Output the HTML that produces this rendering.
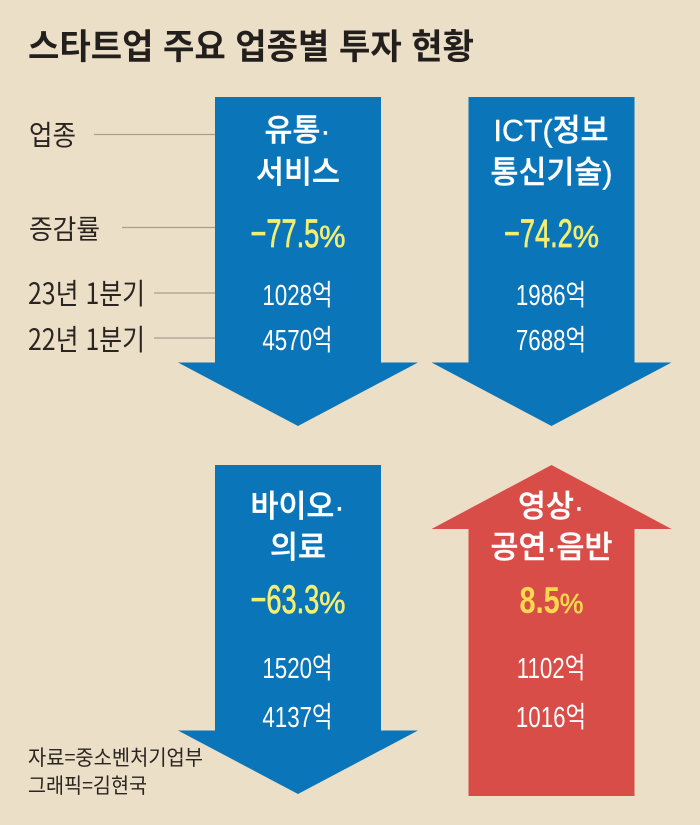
<!DOCTYPE html>
<html lang="ko">
<head>
<meta charset="utf-8">
<title>스타트업 주요 업종별 투자 현황</title>
<style>
html,body{margin:0;padding:0;background:#ecdfc8;}
svg{display:block;}
text{font-family:"Liberation Sans","Noto Sans CJK KR",sans-serif;}
.kr{font-family:"Noto Sans CJK KR","Liberation Sans",sans-serif;}
</style>
</head>
<body>
<svg id="chart" xmlns="http://www.w3.org/2000/svg" width="700" height="825" viewBox="0 0 700 825">
  <rect width="700" height="825" fill="#ecdfc8"/>
  <text class="kr" x="28" y="59" font-size="35" font-weight="700" fill="#231f1c" textLength="446" lengthAdjust="spacingAndGlyphs">스타트업 주요 업종별 투자 현황</text>

  <text class="kr" x="29" y="145" font-size="28" fill="#2a2521" textLength="47" lengthAdjust="spacingAndGlyphs">업종</text>
  <line x1="94" y1="134.5" x2="215" y2="134.5" stroke="#a89f90" stroke-width="1.2"/>
  <text class="kr" x="29" y="239" font-size="27" fill="#2a2521" textLength="71" lengthAdjust="spacingAndGlyphs">증감률</text>
  <line x1="122" y1="227.5" x2="215" y2="227.5" stroke="#a89f90" stroke-width="1.2"/>
  <text class="kr" x="28" y="304" font-size="29" fill="#2a2521" textLength="117" lengthAdjust="spacingAndGlyphs">23년 1분기</text>
  <line x1="154" y1="293" x2="215" y2="293" stroke="#a89f90" stroke-width="1.2"/>
  <text class="kr" x="28" y="350" font-size="29" fill="#2a2521" textLength="117" lengthAdjust="spacingAndGlyphs">22년 1분기</text>
  <line x1="154" y1="338" x2="215" y2="338" stroke="#a89f90" stroke-width="1.2"/>

  <g id="arrows"></g>

  <text class="kr" x="28" y="765" font-size="21" fill="#2a2521" textLength="175" lengthAdjust="spacingAndGlyphs">자료=중소벤처기업부</text>
  <text class="kr" x="28" y="793" font-size="21" fill="#2a2521" textLength="119" lengthAdjust="spacingAndGlyphs">그래픽=김현국</text>
</svg>
<script>
const categoryFirstLines = ['유통·', 'ICT(정보', '바이오·', '영상·'];
const categorySecondLines = ['서비스', '통신기술)', '의료', '공연·음반'];
const changeRates = [-77.5, -74.2, -63.3, 8.5];
const investment2023 = [1028, 1986, 1520, 1102];
const investment2022 = [4570, 7688, 4137, 1016];

const SVG_NS = 'http://www.w3.org/2000/svg';
const host = document.getElementById('arrows');
const columnCenter = function (i) { return 298 + (i % 2) * 253.5; };
const rowTop = function (i) { return i < 2 ? 97 : 465; };
const textOffsets = [
  { first: 44, second: 86, rate: 150, v1: 208, v2: 253 },
  { first: 52, second: 93, rate: 148, v1: 213, v2: 262 }
];

function arrowPoints(cx, top, rate) {
  const shaft = 83, head = 120, length = 329, neck = 265.5;
  if (rate < 0) {
    return [[cx - shaft, top], [cx + shaft, top], [cx + shaft, top + neck], [cx + head, top + neck],
      [cx, top + length], [cx - head, top + neck], [cx - shaft, top + neck]];
  }
  const inv = 64;
  return [[cx, top], [cx + head, top + inv], [cx + shaft, top + inv], [cx + shaft, top + 331],
    [cx - shaft, top + 331], [cx - shaft, top + inv], [cx - head, top + inv]];
}

function addText(label, content, x, y, size, weight, fill, squeeze, stroke) {
  const t = document.createElementNS(SVG_NS, 'text');
  
  
  t.setAttribute('x', x);
  t.setAttribute('y', y);
  t.setAttribute('font-size', size);
  t.setAttribute('font-weight', weight);
  t.setAttribute('fill', fill);
  t.setAttribute('text-anchor', 'middle');
  if (stroke) {
    t.setAttribute('stroke', fill);
    t.setAttribute('stroke-width', stroke);
  }
  t.textContent = content;
  host.appendChild(t);
  t.setAttribute('textLength', (t.getComputedTextLength() * squeeze).toFixed(1));
  t.setAttribute('lengthAdjust', 'spacingAndGlyphs');
  return t;
}

function formatRate(rate) {
  return rate.toFixed(1).replace('-', '\u2212');
}

changeRates.forEach(function (rate, i) {
  const cx = columnCenter(i);
  const top = rowTop(i);
  const off = textOffsets[i < 2 ? 0 : 1];
  const up = rate >= 0;

  const arrow = document.createElementNS(SVG_NS, 'polygon');
  
  
  arrow.setAttribute('points', arrowPoints(cx, top, rate).map(function (p) { return p.join(','); }).join(' '));
  arrow.setAttribute('fill', up ? '#d94d49' : '#0a76b9');
  host.appendChild(arrow);

  addText('sector-name-first-line-' + i, categoryFirstLines[i], cx - 0.5, top + off.first, 31, 500, '#ffffff', 0.98, 0.4);
  addText('sector-name-second-line-' + i, categorySecondLines[i], cx, top + off.second, 31, 500, '#ffffff', 0.98, 0.4);

  const rateFill = up ? '#fbd84f' : '#f3ee72';
  const numSize = up ? 37 : 40;
  const numSqueeze = up ? 0.78 : 0.68;
  const pctSize = up ? 28 : 31;
  const rateText = addText('change-rate-' + i, formatRate(rate), cx, top + off.rate, numSize, up ? 700 : 400, rateFill, numSqueeze, up ? 0 : 0.7);
  const pct = addText('change-rate-percent-' + i, '%', cx, top + off.rate, pctSize, 400, rateFill, 0.95, 0.6);
  const numLen = parseFloat(rateText.getAttribute('textLength'));
  const pctLen = parseFloat(pct.getAttribute('textLength'));
  const groupStart = cx - (numLen + pctLen) / 2;
  rateText.setAttribute('x', (groupStart + numLen / 2).toFixed(1));
  pct.setAttribute('x', (groupStart + numLen + pctLen / 2).toFixed(1));

  addText('investment-q1-2023-' + i, investment2023[i] + '억', cx - 0.5, top + off.v1, 29, 400, '#ffffff', 0.77, 0);
  addText('investment-q1-2022-' + i, investment2022[i] + '억', cx - 0.5, top + off.v2, 29, 400, '#ffffff', 0.77, 0);
});
</script>
</body>
</html>
